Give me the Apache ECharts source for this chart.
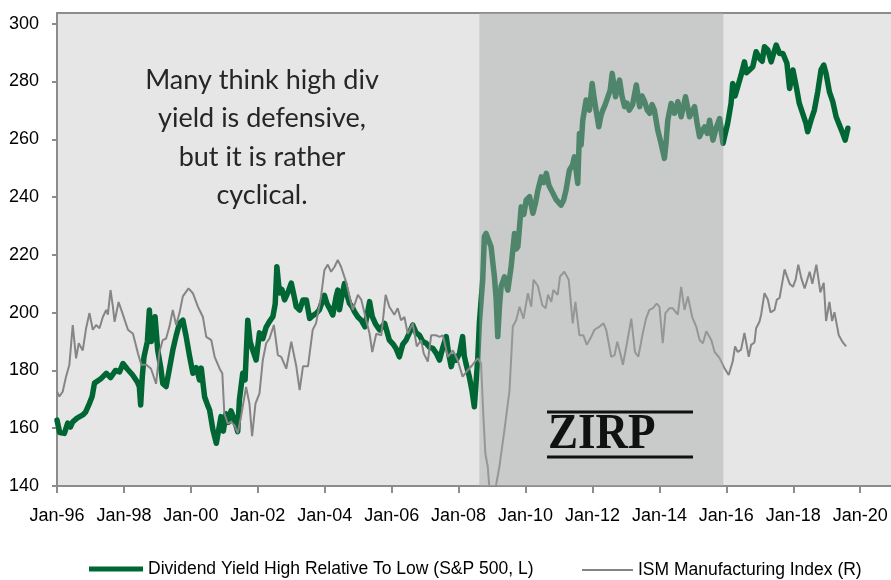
<!DOCTYPE html>
<html>
<head>
<meta charset="utf-8">
<script src="https://cdn.jsdelivr.net/npm/echarts@6/dist/echarts.min.js"></script>
<style>
html,body{margin:0;padding:0;background:#fff;}
#chart{width:891px;height:580px;}
</style>
</head>
<body>
<div id="chart"></div>
<script>
// ---- data (decimal years) ----
const greenName = 'Dividend Yield High Relative To Low (S&P 500, L)';
const ismName = 'ISM Manufacturing Index (R)';

const greenYears = [1996.00,1996.08,1996.22,1996.32,1996.40,1996.47,1996.60,1996.77,1996.85,1996.97,1997.05,1997.12,1997.30,1997.47,1997.60,1997.75,1997.87,1997.97,1998.10,1998.26,1998.40,1998.46,1998.50,1998.55,1998.60,1998.70,1998.76,1998.82,1998.86,1998.93,1999.01,1999.10,1999.16,1999.26,1999.35,1999.46,1999.56,1999.66,1999.76,1999.86,1999.96,2000.06,2000.16,2000.26,2000.31,2000.41,2000.50,2000.56,2000.66,2000.76,2000.83,2000.90,2000.97,2001.05,2001.12,2001.20,2001.30,2001.40,2001.45,2001.55,2001.62,2001.70,2001.77,2001.85,2001.95,2002.05,2002.15,2002.25,2002.35,2002.45,2002.52,2002.57,2002.62,2002.65,2002.72,2002.80,2002.90,2003.00,2003.08,2003.15,2003.25,2003.35,2003.45,2003.55,2003.65,2003.75,2003.84,2003.99,2004.07,2004.14,2004.24,2004.34,2004.39,2004.44,2004.52,2004.59,2004.67,2004.74,2004.82,2004.89,2004.99,2005.09,2005.20,2005.34,2005.42,2005.52,2005.64,2005.79,2005.93,2006.05,2006.13,2006.23,2006.33,2006.43,2006.53,2006.63,2006.73,2006.83,2006.93,2007.03,2007.13,2007.23,2007.33,2007.43,2007.53,2007.63,2007.70,2007.78,2007.86,2007.93,2008.03,2008.12,2008.17,2008.22,2008.32,2008.40,2008.47,2008.57,2008.62,2008.72,2008.77,2008.82,2008.87,2008.97,2009.07,2009.12,2009.17,2009.22,2009.27,2009.37,2009.47,2009.57,2009.67,2009.72,2009.77,2009.87,2009.95,2010.02,2010.12,2010.22,2010.30,2010.37,2010.47,2010.55,2010.62,2010.70,2010.77,2010.92,2011.06,2011.14,2011.21,2011.31,2011.40,2011.46,2011.56,2011.61,2011.66,2011.71,2011.81,2011.91,2011.99,2012.04,2012.09,2012.19,2012.25,2012.31,2012.38,2012.46,2012.53,2012.59,2012.69,2012.75,2012.81,2012.88,2012.96,2013.03,2013.10,2013.20,2013.31,2013.41,2013.48,2013.56,2013.64,2013.71,2013.78,2013.85,2013.95,2014.05,2014.15,2014.20,2014.25,2014.35,2014.45,2014.55,2014.65,2014.78,2014.90,2015.05,2015.12,2015.20,2015.28,2015.35,2015.43,2015.50,2015.60,2015.70,2015.80,2015.90,2015.94,2016.04,2016.14,2016.19,2016.26,2016.34,2016.44,2016.54,2016.60,2016.69,2016.79,2016.89,2016.99,2017.07,2017.14,2017.24,2017.34,2017.42,2017.49,2017.59,2017.69,2017.81,2017.89,2017.99,2018.09,2018.18,2018.28,2018.38,2018.43,2018.53,2018.63,2018.73,2018.83,2018.91,2018.98,2019.08,2019.18,2019.28,2019.38,2019.48,2019.55,2019.63];
const greenValues = [162.8,158.5,158.2,161.8,160.4,162.2,163.5,164.6,165.5,168.6,171.0,175.6,177.0,179.0,177.5,180.0,179.5,182.4,180.5,178.4,176.0,174.4,168.0,178.0,184.7,190.0,200.9,190.0,194.0,198.6,187.0,181.0,175.5,174.4,180.0,187.0,192.0,196.3,197.4,191.7,185.0,179.0,181.0,176.7,180.8,170.9,168.0,166.3,159.4,154.8,159.4,164.0,159.0,165.0,162.0,166.0,163.0,158.8,169.8,179.0,176.7,197.4,190.0,187.0,183.6,193.0,191.0,195.0,197.0,198.6,203.0,215.9,210.0,206.8,208.0,204.4,207.0,210.2,206.0,202.0,200.9,204.4,204.4,198.0,199.0,199.8,201.0,206.0,203.0,201.6,199.2,205.5,207.8,201.0,206.0,210.1,206.0,203.2,202.0,200.3,198.5,197.4,195.1,203.8,198.6,196.0,194.0,196.3,190.5,189.0,187.6,184.7,189.0,190.5,193.0,195.7,193.0,192.2,190.0,189.4,188.0,187.6,186.0,183.6,188.0,191.7,186.0,181.3,185.0,183.6,186.0,191.7,185.0,182.4,177.8,173.0,167.4,183.6,196.3,211.3,226.3,227.4,227.4,222.8,212.4,205.0,191.7,202.0,209.0,212.4,207.8,215.9,227.4,222.0,222.8,236.6,234.0,239.0,240.1,234.4,238.0,242.4,247.0,245.0,248.2,244.0,242.4,239.0,237.2,239.0,242.4,249.3,251.0,253.9,244.7,262.0,258.0,266.6,273.6,270.1,279.3,275.0,271.3,264.3,268.0,270.1,272.0,274.7,277.0,282.8,274.7,278.0,280.5,275.0,271.3,272.5,270.1,272.0,278.8,271.3,275.0,273.0,270.0,269.0,272.0,270.1,263.2,258.6,253.4,259.0,266.6,272.4,269.0,273.0,267.8,274.7,267.8,271.3,266.0,260.9,263.0,264.3,262.0,266.6,259.7,264.0,267.2,258.6,258.6,265.5,272.4,279.3,275.0,278.2,282.2,286.8,283.0,284.0,285.1,290.3,288.0,287.0,292.0,290.9,286.8,290.0,292.6,289.7,289.7,286.3,277.6,284.0,278.2,272.4,269.0,265.5,262.6,266.6,270.1,276.4,284.0,285.7,282.8,276.4,273.0,267.8,264.9,262.0,259.7,263.8];

const ismYears = [1996.00,1996.07,1996.17,1996.27,1996.37,1996.42,1996.47,1996.57,1996.65,1996.77,1996.87,1996.97,1997.07,1997.17,1997.27,1997.37,1997.47,1997.52,1997.60,1997.67,1997.72,1997.84,1997.97,1998.12,1998.27,1998.42,1998.52,1998.67,1998.81,1998.96,1999.06,1999.16,1999.26,1999.36,1999.46,1999.56,1999.66,1999.76,1999.93,2000.06,2000.21,2000.36,2000.46,2000.61,2000.71,2000.86,2000.94,2001.00,2001.10,2001.20,2001.30,2001.40,2001.50,2001.65,2001.75,2001.83,2001.93,2002.05,2002.15,2002.25,2002.35,2002.48,2002.60,2002.70,2002.85,2003.00,2003.15,2003.25,2003.35,2003.50,2003.64,2003.74,2003.89,2003.99,2004.09,2004.19,2004.29,2004.39,2004.49,2004.64,2004.74,2004.84,2004.99,2005.09,2005.24,2005.34,2005.42,2005.54,2005.69,2005.82,2005.93,2006.08,2006.18,2006.28,2006.38,2006.48,2006.63,2006.75,2006.88,2006.96,2007.08,2007.18,2007.33,2007.43,2007.53,2007.68,2007.83,2007.97,2008.12,2008.27,2008.42,2008.57,2008.67,2008.74,2008.80,2008.87,2008.95,2009.10,2009.22,2009.37,2009.52,2009.62,2009.72,2009.82,2009.94,2010.07,2010.17,2010.24,2010.37,2010.50,2010.60,2010.67,2010.77,2010.83,2010.96,2011.03,2011.16,2011.29,2011.41,2011.49,2011.61,2011.73,2011.83,2011.96,2012.06,2012.21,2012.33,2012.41,2012.56,2012.66,2012.74,2012.81,2012.91,2013.03,2013.16,2013.27,2013.37,2013.50,2013.60,2013.70,2013.80,2013.92,2014.00,2014.10,2014.18,2014.30,2014.40,2014.55,2014.65,2014.75,2014.85,2014.98,2015.10,2015.20,2015.30,2015.40,2015.55,2015.65,2015.79,2015.94,2016.07,2016.19,2016.26,2016.34,2016.44,2016.54,2016.67,2016.74,2016.84,2016.89,2016.99,2017.04,2017.14,2017.24,2017.32,2017.44,2017.51,2017.59,2017.74,2017.89,2017.99,2018.07,2018.15,2018.24,2018.34,2018.49,2018.57,2018.69,2018.81,2018.91,2018.98,2019.08,2019.16,2019.23,2019.36,2019.48,2019.58];
const ismValues = [46.3,45.7,46.3,48.2,49.7,49.9,54.7,50.5,52.4,51.5,54.3,56.2,54.1,54.7,54.3,55.7,56.6,56.0,59.1,57.0,55.1,57.6,56.0,54.1,53.6,51.1,49.7,49.7,49.2,47.3,51.3,52.8,53.0,54.5,56.6,54.7,56.2,58.3,59.3,58.7,57.0,55.7,53.2,52.8,50.7,49.2,48.6,43.6,42.3,42.5,42.1,41.1,43.2,46.9,44.8,40.7,44.8,46.1,50.3,52.4,53.0,54.7,50.9,50.7,49.2,52.6,49.5,46.5,49.5,49.5,54.1,54.9,58.3,61.6,62.3,61.4,62.0,62.9,62.0,60.1,58.3,56.6,58.5,57.9,55.3,53.6,51.3,53.6,53.4,58.5,57.0,56.0,56.8,55.3,55.7,53.6,54.9,52.0,52.8,51.1,50.1,53.4,53.4,53.2,53.4,50.7,51.5,50.3,48.2,49.0,49.7,50.5,49.9,43.2,38.5,36.9,32.6,34.1,36.9,41.5,46.4,54.5,55.3,57.0,55.5,58.7,57.0,60.4,59.6,57.2,56.8,58.5,57.6,59.1,58.5,60.8,61.4,60.4,54.9,57.6,53.4,53.4,52.2,53.2,54.1,54.5,54.9,54.1,50.7,50.9,52.6,51.5,49.7,52.4,55.5,51.3,50.7,53.6,55.5,56.6,56.8,57.4,57.0,52.4,56.2,56.8,56.8,56.0,59.5,56.6,58.3,55.7,54.5,52.8,52.4,53.9,52.8,51.3,50.6,49.3,48.4,50.1,52.0,51.3,51.6,53.7,50.7,52.2,52.5,54.3,55.1,56.0,58.7,57.9,56.3,56.6,57.9,58.1,61.7,59.9,59.5,60.4,62.3,60.6,59.3,61.4,59.9,62.3,58.8,60.0,55.2,57.6,55.2,56.3,53.4,52.5,52.0];

const zirpStart = 2008.62;
const zirpEnd = 2015.91;

const xTickYears = [1996,1998,2000,2002,2004,2006,2008,2010,2012,2014,2016,2018,2020];
const yTickValues = [140,160,180,200,220,240,260,280,300];

// ---- options ----
const FONT = '"Liberation Sans", Arial, sans-serif';
const greenData = greenYears.map((y, i) => [y, greenValues[i]]);
const ismData = ismYears.map((y, i) => [y, ismValues[i]]);
const fmtYear = v => 'Jan-' + String(Math.round(v) % 100).padStart(2, '0');
const AXIS_GRAY = '#8c8c8c';
const X_MIN = 1996, X_MAX = 2020.92;

const chart = echarts.init(document.getElementById('chart'), null, {renderer: 'canvas'});
chart.setOption({
  animation: false,
  backgroundColor: '#ffffff',
  grid: {
    left: 57, top: 13, right: 0, bottom: 94,
    show: true, backgroundColor: '#e6e6e6', borderWidth: 0
  },
  xAxis: [{
    type: 'value', min: X_MIN, max: X_MAX, position: 'bottom',
    axisLine: {show: true, onZero: false, lineStyle: {color: AXIS_GRAY, width: 2}},
    axisTick: {show: true, length: 7, lineStyle: {color: AXIS_GRAY, width: 2}, customValues: xTickYears},
    axisLabel: {customValues: xTickYears, formatter: fmtYear, fontFamily: FONT, fontSize: 18, color: '#000', margin: 21},
    splitLine: {show: false}
  }, {
    type: 'value', min: X_MIN, max: X_MAX, position: 'top',
    axisLine: {show: true, onZero: false, lineStyle: {color: AXIS_GRAY, width: 2}},
    axisTick: {show: false}, axisLabel: {show: false}, splitLine: {show: false}
  }],
  yAxis: [{
    type: 'value', min: 140, max: 303.7, position: 'left',
    axisLine: {show: true, onZero: false, lineStyle: {color: AXIS_GRAY, width: 2}},
    axisTick: {show: true, length: 5, lineStyle: {color: AXIS_GRAY, width: 2}, customValues: yTickValues},
    axisLabel: {customValues: yTickValues, fontFamily: FONT, fontSize: 18, color: '#000', margin: 18},
    splitLine: {show: false}
  }, {
    type: 'value', min: 34.44, max: 93.96, position: 'right', show: false,
    splitLine: {show: false}
  }],
  legend: [{
    data: [greenName], left: 84, top: 555, icon: 'rect', itemWidth: 54, itemHeight: 5,
    textStyle: {fontFamily: FONT, fontSize: 17.5, color: '#000'}
  }, {
    data: [ismName], left: 577, top: 556, icon: 'rect', itemWidth: 51, itemHeight: 2,
    textStyle: {fontFamily: FONT, fontSize: 17.5, color: '#000'}
  }],
  series: [{
    name: greenName, type: 'line', data: greenData, xAxisIndex: 0, yAxisIndex: 0,
    showSymbol: false, symbol: 'none', z: 2,
    lineStyle: {color: '#006633', width: 5.5, join: 'round', cap: 'round'},
    itemStyle: {color: '#006633'}
  }, {
    name: ismName, type: 'line', data: ismData, xAxisIndex: 0, yAxisIndex: 1,
    showSymbol: false, symbol: 'none', z: 3,
    lineStyle: {color: '#858585', width: 2},
    itemStyle: {color: '#858585'}
  }, {
    name: 'ZIRP', type: 'line', xAxisIndex: 0, yAxisIndex: 0, z: 5, silent: true,
    data: [[zirpStart, 303.7], [zirpEnd, 303.7]],
    showSymbol: false, symbol: 'none',
    lineStyle: {width: 0, opacity: 0},
    areaStyle: {color: 'rgba(168,170,169,0.47)', origin: 'start', opacity: 1}
  }],
  graphic: [{
    type: 'text', x: 262, y: 61, z: 100, silent: true,
    style: {
      text: 'Many think high div\nyield is defensive,\nbut it is rather\ncyclical.',
      align: 'center', verticalAlign: 'top', lineHeight: 38.5,
      font: '27px Lato, "Noto Sans", sans-serif', fill: '#262626'
    }
  }, {
    type: 'line', z: 100, silent: true,
    shape: {x1: 547, y1: 412, x2: 693, y2: 412},
    style: {stroke: '#111', lineWidth: 3}
  }, {
    type: 'line', z: 100, silent: true,
    shape: {x1: 547, y1: 457, x2: 693, y2: 457},
    style: {stroke: '#111', lineWidth: 3}
  }, {
    type: 'text', x: 548, y: 435, z: 100, silent: true, scaleX: 0.9,
    style: {
      text: 'ZIRP', align: 'left', verticalAlign: 'middle',
      font: 'bold 50px "Liberation Serif", "DejaVu Serif", serif', fill: '#111'
    }
  }]
});
</script>
</body>
</html>
